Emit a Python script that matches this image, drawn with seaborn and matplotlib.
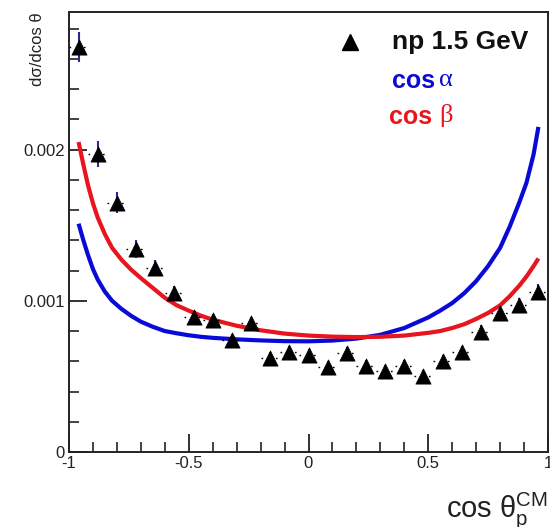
import numpy as np
import pandas as pd
import matplotlib
matplotlib.use("Agg")
import matplotlib.pyplot as plt
import seaborn as sns

# ---- data ----
x_bins = [-0.96, -0.88, -0.80, -0.72, -0.64, -0.56, -0.48, -0.40, -0.32, -0.24,
          -0.16, -0.08, 0.00, 0.08, 0.16, 0.24, 0.32, 0.40, 0.48, 0.56,
          0.64, 0.72, 0.80, 0.88, 0.96]
data_y = [2.68, 1.97, 1.65, 1.34, 1.22, 1.05, 0.89, 0.87, 0.74, 0.85,
          0.62, 0.66, 0.64, 0.56, 0.655, 0.57, 0.535, 0.57, 0.50, 0.60,
          0.66, 0.795, 0.92, 0.97, 1.06]
data_yerr = [0.10, 0.085, 0.07, 0.06, 0.05, 0.05, 0.045, 0.045, 0.04, 0.04,
             0.04, 0.04, 0.04, 0.04, 0.04, 0.04, 0.04, 0.04, 0.04, 0.04,
             0.04, 0.045, 0.045, 0.05, 0.05]
bin_half_width = 0.04

curve_x = [-0.96, -0.94, -0.92, -0.90, -0.88, -0.85, -0.82, -0.78, -0.74, -0.70,
           -0.65, -0.60, -0.55, -0.50, -0.45, -0.40, -0.30, -0.20, -0.10, 0.00,
           0.10, 0.20, 0.30, 0.40, 0.50, 0.55, 0.60, 0.65, 0.70, 0.75,
           0.80, 0.84, 0.88, 0.91, 0.94, 0.96]
cos_alpha = [1.51, 1.40, 1.30, 1.21, 1.14, 1.06, 1.00, 0.945, 0.90, 0.862,
             0.828, 0.80, 0.785, 0.772, 0.762, 0.755, 0.745, 0.738, 0.733, 0.732,
             0.737, 0.75, 0.775, 0.82, 0.89, 0.935, 0.985, 1.05, 1.13, 1.23,
             1.35, 1.49, 1.65, 1.78, 1.97, 2.15]
cos_beta = [2.05, 1.90, 1.76, 1.645, 1.55, 1.44, 1.35, 1.27, 1.205, 1.15,
            1.085, 1.02, 0.97, 0.935, 0.902, 0.875, 0.835, 0.805, 0.783, 0.77,
            0.763, 0.76, 0.762, 0.77, 0.788, 0.80, 0.82, 0.845, 0.88, 0.92,
            0.97, 1.03, 1.10, 1.16, 1.23, 1.28]
scale = 1e-3

x_ticks = [-1, -0.5, 0, 0.5, 1]
x_ticklabels = ["-1", "-0.5", "0", "0.5", "1"]
y_ticks = [0, 0.001, 0.002]
y_ticklabels = ["0", "0.001", "0.002"]

df = pd.DataFrame({"x": x_bins,
                   "y": np.array(data_y) * scale,
                   "yerr": np.array(data_yerr) * scale})
curves = pd.DataFrame({"x": curve_x,
                       "alpha": np.array(cos_alpha) * scale,
                       "beta": np.array(cos_beta) * scale})

sns.set_style("ticks")
plt.rcParams["font.family"] = ["Liberation Sans", "DejaVu Sans"]
plt.rcParams["mathtext.fontset"] = "custom"
plt.rcParams["mathtext.rm"] = "Liberation Sans"

BLUE = "#0a0ad8"
RED = "#e8141e"

fig = plt.figure(figsize=(5.5, 5.27), dpi=100)
ax = fig.add_axes([69 / 550, 1 - 452 / 527, 479 / 550, 440 / 527])

sns.lineplot(data=curves, x="x", y="alpha", ax=ax, color=BLUE, lw=3.0, zorder=2,
             solid_capstyle="butt")
sns.lineplot(data=curves, x="x", y="beta", ax=ax, color=RED, lw=3.0, zorder=2,
             solid_capstyle="butt")

# error bars
xe = ax.errorbar(df["x"], df["y"], xerr=bin_half_width, fmt="none",
                 ecolor="black", elinewidth=1.0, zorder=3)
for lc in xe[2]:
    lc.set_linestyle((0, (1.2, 4)))
ax.errorbar(df["x"], df["y"], yerr=df["yerr"], fmt="none",
            ecolor="#2a2a90", elinewidth=1.5, zorder=3)
sns.scatterplot(data=df, x="x", y="y", ax=ax, marker="^", s=120,
                color="black", edgecolor="black", linewidth=0.5, zorder=4)

ax.set_xlim(-1, 1)
ax.set_ylim(0, 0.00291)
ax.set_xticks(x_ticks)
ax.set_xticklabels(x_ticklabels)
ax.set_yticks(y_ticks)
ax.set_yticklabels(y_ticklabels)
ax.set_xticks(np.arange(-1, 1.001, 0.1), minor=True)
ax.set_yticks(np.arange(0, 0.0029, 0.0002), minor=True)
ax.tick_params(axis="both", which="major", direction="in", length=13, width=1.3,
               labelsize=12, colors="#222222", pad=3)
ax.tick_params(axis="both", which="minor", direction="in", length=7, width=1.2,
               colors="#222222")
ax.tick_params(top=False, right=False, which="both")
ax.set_xlabel("")
ax.set_ylabel("")
for sp in ax.spines.values():
    sp.set_linewidth(1.4)
    sp.set_color("#222222")

# axis titles
fig.text(37 / 550, 1 - 12 / 527, "dσ/dcos θ", rotation=90, ha="center", va="top",
         fontsize=12, color="#222222")
fig.text(548 / 550, 1 - 517 / 527, r"cos θ$_\mathrm{p}^\mathrm{CM}$", ha="right",
         va="baseline", fontsize=21, color="#222222")

# legend
ax.plot([0.587], [0.932], marker="^", ms=11.5, color="black",
        transform=ax.transAxes, clip_on=False)
ax.text(0.674, 0.932, "np 1.5 GeV", transform=ax.transAxes, ha="left",
        va="center", fontsize=19, fontweight="bold", color="#111111")
ax.text(0.674, 0.843, "cos", transform=ax.transAxes, ha="left", va="center",
        fontsize=18, fontweight="bold", color=BLUE)
ax.text(0.773, 0.846, "α", transform=ax.transAxes, ha="left", va="center",
        fontsize=19, family=["Liberation Serif", "DejaVu Serif"], color=BLUE)
ax.text(0.668, 0.761, "cos", transform=ax.transAxes, ha="left", va="center",
        fontsize=18, fontweight="bold", color=RED)
ax.text(0.772, 0.764, "β", transform=ax.transAxes, ha="left", va="center",
        fontsize=19, family=["Liberation Serif", "DejaVu Serif"], color=RED)

fig.savefig("out.png", dpi=100)
